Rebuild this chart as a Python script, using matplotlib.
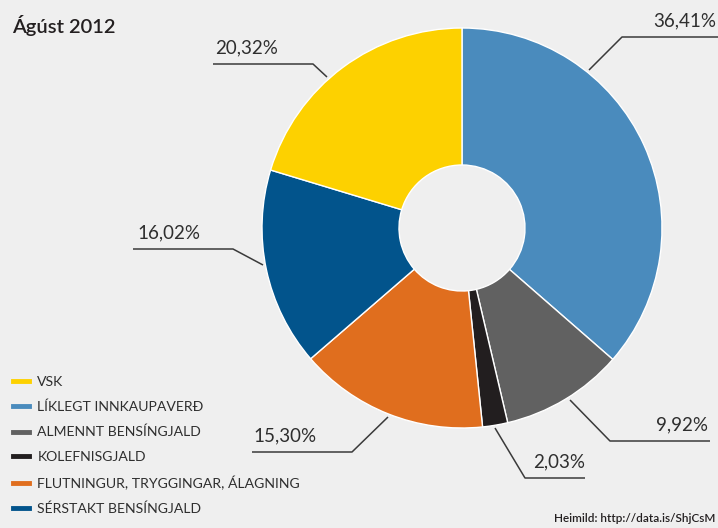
#--------------------------------------------------
# Ágúst 2012: skipting bensínverðs (donut chart)
#--------------------------------------------------
import matplotlib
matplotlib.use('Agg')
import matplotlib.pyplot as plt
from matplotlib.lines import Line2D

plt.rcParams['font.family'] = ['Lato', 'DejaVu Sans']

#--------------------------------------------------
# data
#--------------------------------------------------
# pie order (clockwise from 12 o'clock)
categories = ['LÍKLEGT INNKAUPAVERÐ', 'ALMENNT BENSÍNGJALD', 'KOLEFNISGJALD',
              'FLUTNINGUR, TRYGGINGAR, ÁLAGNING', 'SÉRSTAKT BENSÍNGJALD', 'VSK']
shares = [36.41, 9.92, 2.03, 15.30, 16.02, 20.32]
share_labels = ['36,41%', '9,92%', '2,03%', '15,30%', '16,02%', '20,32%']
legend_order = ['VSK', 'LÍKLEGT INNKAUPAVERÐ', 'ALMENNT BENSÍNGJALD', 'KOLEFNISGJALD',
                'FLUTNINGUR, TRYGGINGAR, ÁLAGNING', 'SÉRSTAKT BENSÍNGJALD']
title = 'Ágúst 2012'
source = 'Heimild: http://data.is/ShjCsM'

#--------------------------------------------------
# styles / layout (pixel coords, y measured from top)
#--------------------------------------------------
colors = {'LÍKLEGT INNKAUPAVERÐ': '#4a8bbd', 'ALMENNT BENSÍNGJALD': '#616161',
          'KOLEFNISGJALD': '#221e1f', 'FLUTNINGUR, TRYGGINGAR, ÁLAGNING': '#e06e1e',
          'SÉRSTAKT BENSÍNGJALD': '#02548c', 'VSK': '#fdd100'}
W, H = 718, 528
bg = '#efefef'
center = (462, 228)
r_out, r_in = 200, 63

# leader lines: (start, elbow, end), text anchor x, text alignment
leaders = [
    ((589, 70), (622, 37), (718, 37), 716, 'right'),
    ((570, 400), (610, 441), (710, 441), 708, 'right'),
    ((495, 428), (525, 478), (585, 478), 585, 'right'),
    ((388, 417), (352, 452), (252, 452), 253, 'left'),
    ((263, 265), (233, 249), (133, 249), 137, 'left'),
    ((327, 77), (313, 64), (213, 64), 215, 'left'),
]

fig = plt.figure(figsize=(W / 100, H / 100), dpi=100, facecolor=bg)
ax = fig.add_axes([0, 0, 1, 1])
ax.set_facecolor(bg)

def px(p):
    return (p[0], H - p[1])

ax.pie(shares, colors=[colors[c] for c in categories], startangle=90, counterclock=False,
       radius=r_out, center=px(center),
       wedgeprops=dict(width=r_out - r_in, edgecolor='white', linewidth=1.0))
ax.set_xlim(0, W)
ax.set_ylim(0, H)
ax.set_aspect('equal')
ax.axis('off')

# leader lines + labels
for (p0, p1, p2, tx, ha), lab in zip(leaders, share_labels):
    pts = [px(p0), px(p1), px(p2)]
    ax.plot([p[0] for p in pts], [p[1] for p in pts], color='#3a3a3a', lw=1.1,
            solid_capstyle='butt', clip_on=False)
    ax.text(tx, H - p2[1] + 8, lab, ha=ha, va='bottom', fontsize=13.5,
            color='#2e2e2e', fontweight='normal')

# title & source
ax.text(12, H - 25, title, ha='left', va='center', fontsize=14.5,
        fontweight='semibold', color='#231f20')
ax.text(715, H - 519, source, ha='right', va='center', fontsize=8.5,
        fontweight='semibold', color='#231f20')

# legend
handles = [Line2D([], [], color=colors[c], lw=3.5) for c in legend_order]
ax.legend(handles, legend_order, loc='lower left', bbox_to_anchor=(3 / W, 3 / H),
          frameon=False, handlelength=1.15, handletextpad=0.6, labelspacing=0.9,
          prop=dict(size=10.1, weight='normal'), labelcolor='#2e2e2e', borderpad=0.2)

fig.savefig('out.png', dpi=100, facecolor=bg)
